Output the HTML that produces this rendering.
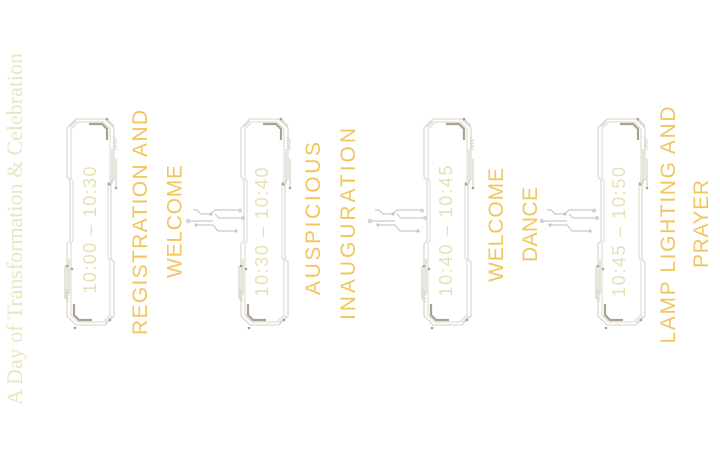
<!DOCTYPE html>
<html>
<head>
<meta charset="utf-8">
<style>
html,body{margin:0;padding:0;background:#ffffff;}
body{width:720px;height:467px;overflow:hidden;}
svg{display:block;}
.t{font-family:"Liberation Sans",sans-serif;}
</style>
</head>
<body>
<svg width="720" height="467" viewBox="0 0 720 467" xmlns="http://www.w3.org/2000/svg">
<defs>
  <g id="fr">
    <!-- outer outline -->
    <path d="M9,0 H38 L47,9 V60 L44,63 V140 L47,143 V197 L38,206 H9 L0,197 V125 L3,122 V61 L0,58 V9 Z" fill="none" stroke="#d8d3c7" stroke-width="1.1"/>
    <!-- inner outline -->
    <path d="M11,3 H36 L43,10 V62 L41,64 V139 L43,141 V196 L36,203 H11 L4,196 V124 L6,122 V62 L4,60 V10 Z" fill="none" stroke="#dcd7cc" stroke-width="1"/>
    <!-- dark accents -->
    <path d="M22,5 H35 L40,10 V21" fill="none" stroke="#a9a28e" stroke-width="2.2"/>
    <path d="M7,185 V196 L12,201 H25" fill="none" stroke="#a9a28e" stroke-width="2.2"/>
    <!-- light corner doubles -->
    <path d="M3,8 L9,2" stroke="#d8d3c7" stroke-width="1"/>
    <path d="M38,204 L45,197" stroke="#d8d3c7" stroke-width="1"/>
    <!-- circuit lines right -->
    <path d="M40,0 L47,7" stroke="#cfcabe" stroke-width="1" fill="none"/>
    <path d="M45,30 V64 L42,67" stroke="#cfcabe" stroke-width="1" fill="none"/>
    <path d="M49,40 V69" stroke="#cfcabe" stroke-width="1" fill="none"/>
    <circle cx="40" cy="0" r="1.3" fill="#aaa395"/>
    <circle cx="42" cy="65" r="1.3" fill="#aaa395"/>
    <circle cx="49" cy="69" r="1.3" fill="#aaa395"/>
    <!-- hatching right -->
    <path d="M46,18 L50,22 M46,21 L50,25 M46,24 L50,28 M46,27 L50,31" stroke="#cfcabe" stroke-width="0.8"/>
    <!-- circuit lines left -->
    <path d="M2,140 V175" stroke="#cfcabe" stroke-width="1" fill="none"/>
    <path d="M-2,147 V180" stroke="#cfcabe" stroke-width="1" fill="none"/>
    <circle cx="0" cy="147" r="1.3" fill="#aaa395"/>
    <circle cx="5" cy="150" r="1.3" fill="#aaa395"/>
    <circle cx="8" cy="209" r="1.3" fill="#aaa395"/>
    <circle cx="43" cy="201" r="1.3" fill="#aaa395"/>
    <!-- hatching left -->
    <path d="M-2,170 L2,174 M-2,173 L2,177 M-2,176 L2,180 M-2,179 L2,183" stroke="#cfcabe" stroke-width="0.8"/>
  </g>
  <g id="cn" fill="none" stroke="#c9c9c9" stroke-width="1.2">
    <path d="M5,-11 H9 L13,-7 H23"/>
    <path d="M23,-7 L27,-11 H50"/>
    <path d="M27,-7 L31,-3 H53"/>
    <path d="M0,0 H25"/>
    <path d="M8,4 H25 L30,10 H48"/>
    <circle cx="0" cy="0" r="2.3" fill="#d2d2d2" stroke="none"/>
    <circle cx="23" cy="-7" r="1.6" fill="#c6c6c6" stroke="none"/>
    <circle cx="52" cy="-10.5" r="2" fill="#d2d2d2" stroke="none"/>
    <circle cx="55" cy="-3" r="2" fill="#d2d2d2" stroke="none"/>
    <circle cx="8" cy="4" r="1.6" fill="#c6c6c6" stroke="none"/>
    <circle cx="48" cy="10" r="1.6" fill="#c6c6c6" stroke="none"/>
  </g>
</defs>

<!-- heading -->
<text transform="translate(22,229) rotate(-90)" text-anchor="middle" font-family="Liberation Serif, serif" font-size="22" fill="#ece5c2" textLength="352" lengthAdjust="spacingAndGlyphs">A Day of Transformation &amp; Celebration</text>

<!-- frames -->
<use href="#fr" x="67" y="119"/>
<use href="#fr" x="241" y="119"/>
<use href="#fr" x="424" y="119"/>
<use href="#fr" x="598" y="119"/>

<!-- connectors -->
<use href="#cn" x="188" y="221"/>
<use href="#cn" x="370" y="221"/>
<use href="#cn" x="542" y="221"/>

<!-- times -->
<g class="t" font-size="18" fill="#e7e0b5" text-anchor="middle">
  <text transform="translate(96,230) rotate(-90)" textLength="127" lengthAdjust="spacing">10:00 – 10:30</text>
  <text transform="translate(268,232) rotate(-90)" textLength="129" lengthAdjust="spacing">10:30 – 10:40</text>
  <text transform="translate(452,231) rotate(-90)" textLength="131" lengthAdjust="spacing">10:40 – 10:45</text>
  <text transform="translate(625,232) rotate(-90)" textLength="130" lengthAdjust="spacing">10:45 – 10:50</text>
</g>

<!-- titles -->
<g class="t" font-size="21" fill="#f2c65e" text-anchor="middle">
  <text transform="translate(147,222.5) rotate(-90)" textLength="225" lengthAdjust="spacing">REGISTRATION AND</text>
  <text transform="translate(181.5,221.5) rotate(-90)" textLength="113" lengthAdjust="spacing">WELCOME</text>
  <text transform="translate(320,218.5) rotate(-90)" textLength="153" lengthAdjust="spacing">AUSPICIOUS</text>
  <text transform="translate(355,224) rotate(-90)" textLength="192" lengthAdjust="spacing">INAUGURATION</text>
  <text transform="translate(503,225) rotate(-90)" textLength="114" lengthAdjust="spacing">WELCOME</text>
  <text transform="translate(537,224.5) rotate(-90)" textLength="75" lengthAdjust="spacing">DANCE</text>
  <text transform="translate(675,225) rotate(-90)" textLength="237" lengthAdjust="spacing">LAMP LIGHTING AND</text>
  <text transform="translate(708,224) rotate(-90)" textLength="88" lengthAdjust="spacing">PRAYER</text>
</g>
</svg>
</body>
</html>
